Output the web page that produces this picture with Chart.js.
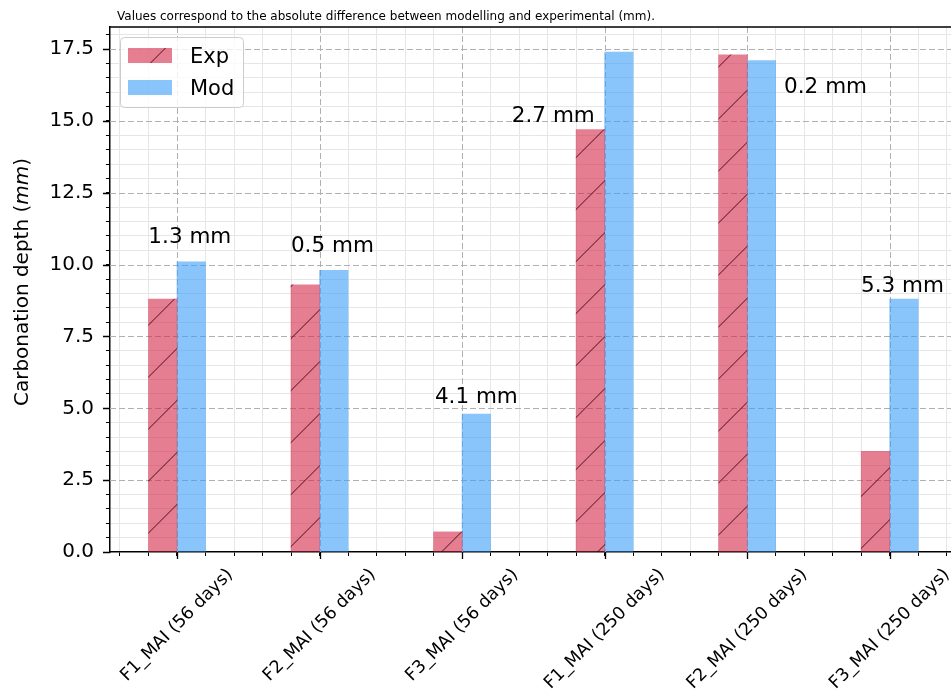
<!DOCTYPE html>
<html>
<head>
<meta charset="utf-8">
<script src="https://cdn.jsdelivr.net/npm/chart.js@4.4.1/dist/chart.umd.min.js"></script>
<style>
html, body { margin: 0; padding: 0; background: #fff; overflow: hidden; }
canvas { display: block; }
</style>
</head>
<body>
<canvas id="carbonation-chart" width="951" height="693"></canvas>
<script>
const categories = [
    'F1_MAI (56 days)',
    'F2_MAI (56 days)',
    'F3_MAI (56 days)',
    'F1_MAI (250 days)',
    'F2_MAI (250 days)',
    'F3_MAI (250 days)'
];
const expDepth = [8.8, 9.3, 0.7, 14.7, 17.3, 3.5];
const modDepth = [10.1, 9.8, 4.8, 17.4, 17.1, 8.8];
const yMajorStep = 2.5;
const yMinorStep = 0.5;
const xMinorStep = 0.2;

// anchor of each "x.x mm" note, in axis units (category index, depth)
const noteX = [0.09, 1.09, 2.1, 2.64, 4.55, 5.09];
const noteY = [10.75, 10.44, 5.18, 14.96, 15.97, 9.05];

const FONT = 'DejaVu Sans';
Chart.defaults.font.family = FONT;
Chart.defaults.color = '#000';

const barWidth = 0.2;
const expColor = 'rgba(213, 40, 72, 0.6)';
const modColor = 'rgba(58, 157, 247, 0.6)';

function hatch(fill) {
    const c = document.createElement('canvas');
    c.width = 52;
    c.height = 52;
    const g = c.getContext('2d');
    g.fillStyle = fill;
    g.fillRect(0, 0, 52, 52);
    g.strokeStyle = 'rgba(60, 0, 15, 0.9)';
    g.lineWidth = 1;
    g.beginPath();
    for (const k of [5.5, 57.5, 109.5]) {
        g.moveTo(k + 2, -2);
        g.lineTo(-2, k + 2);
    }
    g.stroke();
    return g.createPattern(c, 'repeat');
}

const isMultiple = (v, step) => Math.abs(v / step - Math.round(v / step)) < 1e-6;

const extrasPlugin = {
    id: 'extras',
    beforeDatasetsDraw(chart) {
        const { ctx, chartArea: a, scales: { x, y } } = chart;
        ctx.save();
        ctx.strokeStyle = '#b0b0b0';
        ctx.lineWidth = 1;
        ctx.setLineDash([6, 3]);
        ctx.beginPath();
        for (let i = 0; i < categories.length; i++) {
            const px = Math.round(x.getPixelForValue(i)) + 0.5;
            ctx.moveTo(px, a.top);
            ctx.lineTo(px, a.bottom);
        }
        for (let v = yMajorStep; v <= y.max; v += yMajorStep) {
            const py = Math.round(y.getPixelForValue(v)) + 0.5;
            ctx.moveTo(a.left, py);
            ctx.lineTo(a.right, py);
        }
        ctx.stroke();
        ctx.restore();
    },
    afterDraw(chart) {
        const { ctx, chartArea: a, scales: { x, y } } = chart;
        ctx.save();

        // top spine + major ticks
        ctx.strokeStyle = '#000';
        ctx.lineWidth = 1.5;
        ctx.beginPath();
        ctx.moveTo(a.left - 0.75, a.top);
        ctx.lineTo(a.right, a.top);
        ctx.stroke();
        ctx.lineWidth = 1.3;
        ctx.beginPath();
        for (let i = 0; i < categories.length; i++) {
            const px = Math.round(x.getPixelForValue(i)) + 0.5;
            ctx.moveTo(px, a.bottom);
            ctx.lineTo(px, a.bottom + 7);
        }
        for (let v = 0; v <= y.max; v += yMajorStep) {
            const py = Math.round(y.getPixelForValue(v)) + 0.5;
            ctx.moveTo(a.left - 7, py);
            ctx.lineTo(a.left, py);
        }
        ctx.stroke();

        // rotated category labels
        ctx.fillStyle = '#000';
        ctx.font = '17.5px "' + FONT + '"';
        ctx.textAlign = 'center';
        ctx.textBaseline = 'middle';
        categories.forEach((label, i) => {
            const w = ctx.measureText(label).width;
            const half = (w + 20) / (2 * Math.SQRT2);
            ctx.save();
            ctx.translate(x.getPixelForValue(i), a.bottom + 13 + half);
            ctx.rotate(-Math.PI / 4);
            ctx.fillText(label, 0, 0);
            ctx.restore();
        });

        // difference notes
        ctx.font = '21.5px "' + FONT + '"';
        ctx.textBaseline = 'alphabetic';
        categories.forEach((_, i) => {
            const d = Math.abs(modDepth[i] - expDepth[i]).toFixed(1);
            ctx.fillText(d + ' mm', x.getPixelForValue(noteX[i]), y.getPixelForValue(noteY[i]));
        });

        // y axis title with italic unit
        const parts = [
            ['Carbonation depth (', '20px "' + FONT + '"'],
            ['mm', 'italic 20px "' + FONT + '"'],
            [')', '20px "' + FONT + '"']
        ];
        let total = 0;
        parts.forEach(p => { ctx.font = p[1]; total += ctx.measureText(p[0]).width; });
        ctx.save();
        ctx.translate(28, 282);
        ctx.rotate(-Math.PI / 2);
        ctx.textAlign = 'left';
        let cx = -total / 2;
        parts.forEach(p => {
            ctx.font = p[1];
            ctx.fillText(p[0], cx, 0);
            cx += ctx.measureText(p[0]).width;
        });
        ctx.restore();

        // title
        ctx.font = '12px "' + FONT + '"';
        ctx.textAlign = 'left';
        ctx.fillText('Values correspond to the absolute difference between modelling and experimental (mm).', 117, 19.5);

        // legend
        const lx = a.left + 10, ly = a.top + 10;
        ctx.beginPath();
        ctx.roundRect(lx + 0.5, ly + 0.5, 123, 70, 4);
        ctx.fillStyle = 'rgba(255,255,255,0.8)';
        ctx.fill();
        ctx.strokeStyle = '#cccccc';
        ctx.lineWidth = 1;
        ctx.stroke();
        chart.data.datasets.forEach((ds, i) => {
            const sy = ly + 11 + i * 32;
            ctx.fillStyle = ds.backgroundColor;
            ctx.fillRect(lx + 8, sy, 44, 15);
            ctx.fillStyle = '#000';
            ctx.font = '21px "' + FONT + '"';
            ctx.fillText(ds.label, lx + 70, sy + 15);
        });

        ctx.restore();
    }
};

const minorGrid = step => ctx => {
    if (!ctx.tick) return '#e6e6e6';
    return isMultiple(ctx.tick.value, step) ? 'rgba(0,0,0,0)' : '#e6e6e6';
};

new Chart(document.getElementById('carbonation-chart'), {
    type: 'bar',
    data: {
        datasets: [
            {
                label: 'Exp',
                data: expDepth.map((v, i) => ({ x: i - barWidth / 2, y: v })),
                backgroundColor: hatch(expColor),
                borderWidth: 0
            },
            {
                label: 'Mod',
                data: modDepth.map((v, i) => ({ x: i + barWidth / 2, y: v })),
                backgroundColor: modColor,
                borderWidth: 0
            }
        ]
    },
    options: {
        responsive: false,
        animation: false,
        grouped: false,
        barPercentage: 1,
        categoryPercentage: 1,
        layout: { padding: { top: 27, left: 0, right: 0, bottom: 0 } },
        plugins: {
            legend: { display: false },
            tooltip: { enabled: false }
        },
        scales: {
            x: {
                type: 'linear',
                offset: false,
                min: -0.47,
                max: 5.43,
                afterFit: s => { s.height = 141; },
                ticks: { stepSize: xMinorStep, includeBounds: false, display: false, autoSkip: false },
                grid: {
                    offset: false,
                    color: minorGrid(1),
                    lineWidth: 1,
                    tickColor: '#000',
                    tickLength: 4,
                    tickWidth: 1
                },
                border: { color: '#000', width: 1.5 }
            },
            y: {
                min: 0,
                max: 18.27,
                afterFit: s => { s.width = 110; },
                ticks: {
                    stepSize: yMinorStep,
                    includeBounds: false,
                    autoSkip: false,
                    padding: 12,
                    font: { size: 20 },
                    callback: v => isMultiple(v, yMajorStep) ? v.toFixed(1) : ''
                },
                grid: {
                    color: minorGrid(yMajorStep),
                    lineWidth: 1,
                    tickColor: '#000',
                    tickLength: 4,
                    tickWidth: 1
                },
                border: { color: '#000', width: 1.5 }
            }
        }
    },
    plugins: [extrasPlugin]
});
</script>
</body>
</html>
